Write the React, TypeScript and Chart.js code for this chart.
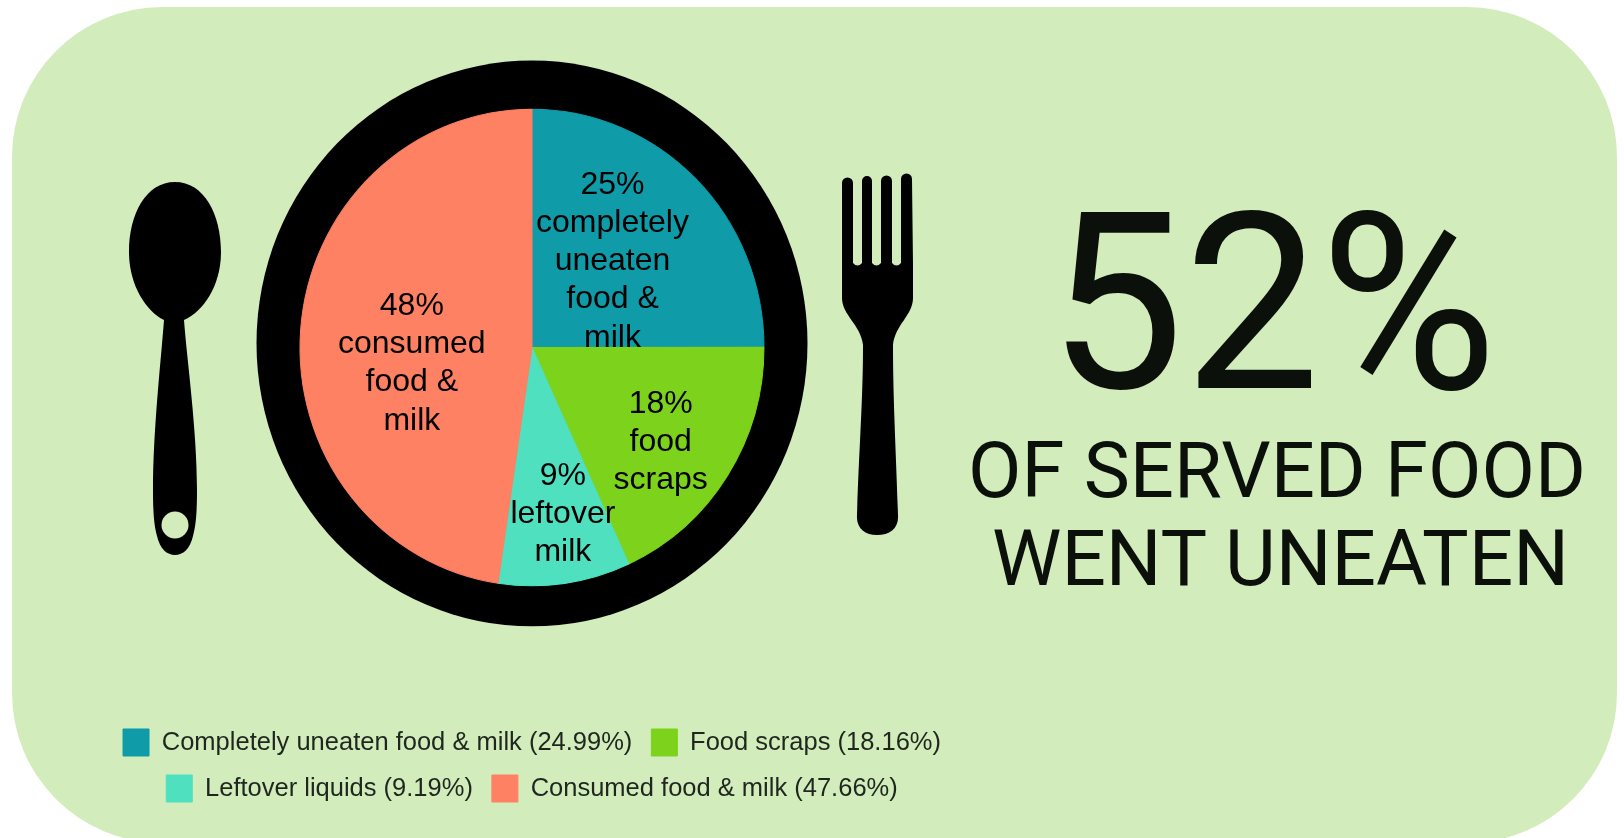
import React, { useEffect, useRef } from "react";
import Chart from "chart.js/auto";

// Share of served food by outcome, in percent
const categories = [
  "Completely uneaten food & milk",
  "Food scraps",
  "Leftover liquids",
  "Consumed food & milk",
];
const shares = [24.99, 18.16, 9.19, 47.66];
const sliceColors = ["#0F9BA8", "#7DD31B", "#4FE0C0", "#FF8163"];

// Wording printed on each slice, below its rounded percentage
const sliceCaptions = [
  ["completely", "uneaten", "food &", "milk"],
  ["food", "scraps"],
  ["leftover", "milk"],
  ["consumed", "food &", "milk"],
];

const headline = "52%";
const sublines = ["OF SERVED FOOD", "WENT UNEATEN"];

const PANEL = "#D2ECBC";
const INK = "#0B100B";
const PLATE_RIM = 1.1875; // rim radius relative to the pie radius
const PLATE_STRETCH = 1.027; // the plate is slightly taller than wide
const RIM_LIFT = 4; // the rim sits a little above the pie's centre
const CAPTION_LINE = 38.2;

// Nudges from each slice's centre point to the centre of its caption block
const captionNudge = [
  [-1.5, -4],
  [31, 32],
  [14.5, 52],
  [-4.5, 24.5],
];

const platePlugin = {
  id: "plate",
  beforeDatasetsDraw(chart: any) {
    const arc = chart.getDatasetMeta(0).data[0];
    const { ctx } = chart;
    ctx.save();
    ctx.translate(arc.x, arc.y);
    ctx.scale(1, PLATE_STRETCH);
    ctx.translate(-arc.x, -arc.y);
    ctx.beginPath();
    ctx.arc(arc.x, arc.y - RIM_LIFT, arc.outerRadius * PLATE_RIM, 0, Math.PI * 2);
    ctx.fillStyle = "#000";
    ctx.fill();
  },
  afterDatasetsDraw(chart: any) {
    const { ctx } = chart;
    ctx.restore();
    ctx.save();
    ctx.font = '32px "Liberation Sans"';
    ctx.fillStyle = "#000";
    ctx.textAlign = "center";
    ctx.textBaseline = "middle";
    chart.getDatasetMeta(0).data.forEach((arc: any, i: number) => {
      const centre = arc.getCenterPoint();
      const lines = [`${Math.round(shares[i])}%`, ...sliceCaptions[i]];
      const x = centre.x + captionNudge[i][0];
      const top =
        centre.y + captionNudge[i][1] - ((lines.length - 1) * CAPTION_LINE) / 2;
      lines.forEach((line, j) => ctx.fillText(line, x, top + j * CAPTION_LINE));
    });
    ctx.restore();
  },
};

export default function App() {
  const canvasRef = useRef<HTMLCanvasElement>(null);

  useEffect(() => {
    const chart = new Chart(canvasRef.current!, {
      type: "pie",
      data: {
        labels: categories.map((name, i) => `${name} (${shares[i].toFixed(2)}%)`),
        datasets: [
          {
            data: shares,
            backgroundColor: sliceColors,
            borderColor: sliceColors,
            borderWidth: 1,
            radius: 232,
          },
        ],
      },
      options: {
        animation: false,
        responsive: false,
        devicePixelRatio: 1,
        layout: { padding: { bottom: 26 } },
        plugins: {
          tooltip: { enabled: false },
          legend: {
            position: "bottom",
            maxWidth: 900,
            title: {
              display: true,
              text: " ",
              font: { size: 10, lineHeight: 1 },
              padding: { top: 0, bottom: 5 },
            },
            labels: {
              boxWidth: 26,
              boxHeight: 27,
              padding: 19,
              color: "#1E261E",
              font: { family: '"Liberation Sans"', size: 25.5 },
            },
          },
        },
      },
      plugins: [platePlugin],
    });
    return () => chart.destroy();
  }, []);

  return (
    <div
      style={{
        position: "absolute",
        left: 0,
        top: 0,
        width: 1624,
        height: 838,
        overflow: "hidden",
        background: "#fff",
      }}
    >
      <svg
        width={1624}
        height={838}
        style={{ position: "absolute", left: 0, top: 0 }}
      >
        <rect x={12} y={7} width={1605} height={836} rx={150} ry={150} fill={PANEL} />
        {/* spoon */}
        <path
          fill="#000"
          d="M175 182 C204 182 221 214 221 252 C221 285 204 311 184 320 C187 360 197 430 197 490 C197 512 196 525 193 536 C190 549 183 555 175 555 C167 555 160 549 157 536 C154 525 153 512 153 490 C153 430 161 360 164 320 C146 311 129 285 129 252 C129 214 146 182 175 182 Z"
        />
        <circle cx={175} cy={525} r={13.5} fill={PANEL} />
        {/* fork */}
        <path
          fill="#000"
          d="M842 183 a5.5 5.5 0 0 1 11 0 L853 263 q4.5 5 9 0 L862 181 a5 5 0 0 1 10 0 L872 263 q4.5 5 9 0 L881 181 a5.5 5.5 0 0 1 11 0 L892 263 q4.5 5 9 0 L901 179 a5.5 5.5 0 0 1 11 0 L913 265 L913 298 C913 315 895 325 893 345 C893 400 896 450 898 515 C899 528 890 535 877 535 C865 535 856 528 857 515 C859 450 863 400 863 345 C861 325 842 315 842 298 Z"
        />
        <g fontFamily="Roboto" fill={INK}>
          <text x={1048} y={388} fontSize={247} textLength={449} lengthAdjust="spacingAndGlyphs">
            {headline}
          </text>
          <text x={968} y={497} fontSize={78} textLength={618} lengthAdjust="spacingAndGlyphs">
            {sublines[0]}
          </text>
          <text x={992} y={585} fontSize={78} textLength={577} lengthAdjust="spacingAndGlyphs">
            {sublines[1]}
          </text>
        </g>
      </svg>
      <canvas
        ref={canvasRef}
        width={1064}
        height={838}
        style={{ position: "absolute", left: 0, top: 0 }}
      />
    </div>
  );
}
